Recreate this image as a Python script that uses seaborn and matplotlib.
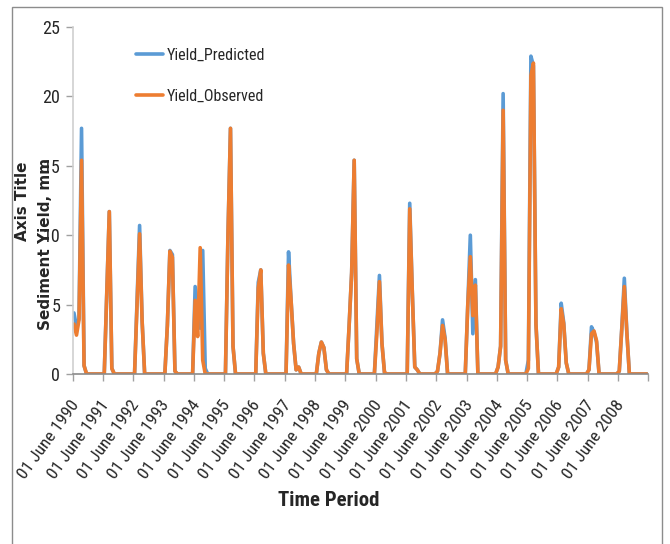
import numpy as np
import pandas as pd
import matplotlib
matplotlib.use("Agg")
import matplotlib.pyplot as plt
import matplotlib.transforms as mtransforms
from matplotlib.patches import Rectangle
from matplotlib import font_manager as fm
import seaborn as sns

# ---------------- data (monthly, June 1990 - May 2009) ----------------
yield_predicted = [
    4.4, 3.4, 4.0, 17.7, 0.6, 0, 0, 0, 0, 0, 0, 0,          # 1990
    0, 5.8, 11.7, 0.4, 0, 0, 0, 0, 0, 0, 0, 0,              # 1991
    0, 5.3, 10.7, 3.8, 0, 0, 0, 0, 0, 0, 0, 0,              # 1992
    0, 3.5, 8.9, 8.6, 0.2, 0, 0, 0, 0, 0, 0, 0,             # 1993
    6.3, 4.8, 3.3, 8.9, 0.4, 0, 0, 0, 0, 0, 0, 0,           # 1994
    0, 10.0, 17.7, 2.0, 0, 0, 0, 0, 0, 0, 0, 0,             # 1995
    0, 6.6, 7.5, 1.5, 0, 0, 0, 0, 0, 0, 0, 0,               # 1996
    0, 8.8, 5.3, 2.2, 0.3, 0.5, 0, 0, 0, 0, 0, 0,           # 1997
    0, 1.5, 2.3, 1.9, 0.3, 0, 0, 0, 0, 0, 0, 0,             # 1998
    0, 3.5, 7.3, 15.4, 1.1, 0, 0, 0, 0, 0, 0, 0,            # 1999
    3.6, 7.1, 2.2, 0.1, 0, 0, 0, 0, 0, 0, 0, 0,             # 2000
    0, 12.3, 6.0, 0.5, 0.3, 0, 0, 0, 0, 0, 0, 0,            # 2001
    0.2, 1.5, 3.9, 2.6, 0, 0, 0, 0, 0, 0, 0, 0,             # 2002
    5.0, 10.0, 2.9, 6.8, 0, 0, 0, 0, 0, 0, 0, 0,            # 2003
    0.5, 2.0, 20.2, 1.0, 0, 0, 0, 0, 0, 0, 0, 0,            # 2004
    1.0, 22.9, 22.2, 3.6, 0, 0, 0, 0, 0, 0, 0, 0,           # 2005
    0.5, 5.1, 3.7, 0.8, 0, 0, 0, 0, 0, 0, 0, 0,             # 2006
    0.3, 3.4, 3.0, 2.3, 0, 0, 0, 0, 0, 0, 0, 0,             # 2007
    0.2, 3.3, 6.9, 3.0, 0, 0, 0, 0, 0, 0, 0, 0,             # 2008
]
yield_observed = [
    3.6, 2.8, 3.9, 15.4, 0.6, 0, 0, 0, 0, 0, 0, 0,          # 1990
    0, 5.8, 11.7, 0.4, 0, 0, 0, 0, 0, 0, 0, 0,              # 1991
    0, 5.0, 10.1, 3.8, 0, 0, 0, 0, 0, 0, 0, 0,              # 1992
    0, 3.5, 8.85, 8.4, 0.2, 0, 0, 0, 0, 0, 0, 0,            # 1993
    5.3, 2.7, 9.1, 1.0, 0, 0, 0, 0, 0, 0, 0, 0,             # 1994
    0, 10.0, 17.7, 2.0, 0, 0, 0, 0, 0, 0, 0, 0,             # 1995
    0, 6.2, 7.5, 1.5, 0, 0, 0, 0, 0, 0, 0, 0,               # 1996
    0, 7.85, 5.3, 2.2, 0.3, 0.5, 0, 0, 0, 0, 0, 0,          # 1997
    0, 1.5, 2.3, 1.9, 0.3, 0, 0, 0, 0, 0, 0, 0,             # 1998
    0, 3.5, 7.3, 15.4, 1.1, 0, 0, 0, 0, 0, 0, 0,            # 1999
    3.0, 6.65, 2.2, 0.1, 0, 0, 0, 0, 0, 0, 0, 0,            # 2000
    0, 11.9, 6.0, 0.5, 0.3, 0, 0, 0, 0, 0, 0, 0,            # 2001
    0.2, 1.5, 3.5, 2.5, 0, 0, 0, 0, 0, 0, 0, 0,             # 2002
    5.0, 8.45, 4.2, 6.4, 0, 0, 0, 0, 0, 0, 0, 0,            # 2003
    0.5, 2.0, 19.0, 1.0, 0, 0, 0, 0, 0, 0, 0, 0,            # 2004
    0.4, 21.5, 22.4, 3.6, 0, 0, 0, 0, 0, 0, 0, 0,           # 2005
    0.5, 4.7, 3.6, 0.8, 0, 0, 0, 0, 0, 0, 0, 0,             # 2006
    0.3, 2.9, 3.1, 2.4, 0, 0, 0, 0, 0, 0, 0, 0,             # 2007
    0.2, 3.3, 6.3, 3.0, 0, 0, 0, 0, 0, 0, 0, 0,             # 2008
]
tick_labels = [f"01 June {y}" for y in range(1990, 2009)]
series_names = ["Yield_Predicted", "Yield_Observed"]
y_ticks = [0, 5, 10, 15, 20, 25]

# ---------------- fonts ----------------
sns.set_style("white")
_names = {f.name for f in fm.fontManager.ttflist}
_narrow = None
for cand in ["Liberation Sans Narrow", "Roboto Condensed", "Open Sans Condensed",
             "DejaVu Sans Condensed", "Noto Sans Condensed"]:
    if cand in _names:
        _narrow = cand
        break
if _narrow is not None:
    plt.rcParams["font.family"] = [_narrow, "DejaVu Sans"]
    scale = 1.0
else:
    plt.rcParams["font.family"] = ["Liberation Sans", "DejaVu Sans"]
    scale = 0.88

W, H = 670, 544
fig = plt.figure(figsize=(W / 100, H / 100), dpi=100)
ax = fig.add_axes([72.7 / W, 1 - 374 / H, (648.3 - 72.7) / W, (374 - 27) / H])

n = len(yield_predicted)
df = pd.DataFrame({
    "month": np.arange(n),
    series_names[0]: yield_predicted,
    series_names[1]: yield_observed,
})

sns.lineplot(data=df, x="month", y=series_names[0], ax=ax, color="#5B9BD5",
             lw=2.6, label=series_names[0])
sns.lineplot(data=df, x="month", y=series_names[1], ax=ax, color="#ED7D31",
             lw=2.6, label=series_names[1])

ax.set_xlim(-0.5, n - 0.5)
ax.set_ylim(0, 25)
ax.set_xlabel("")
ax.set_ylabel("")

ticks = np.arange(-0.5, n, 12)
ax.set_xticks(ticks)
ax.set_xticklabels(tick_labels + [""] * (len(ticks) - len(tick_labels)))
ax.set_yticks(y_ticks)
ax.set_yticklabels([str(v) for v in y_ticks])

for s in ["top", "right"]:
    ax.spines[s].set_visible(False)
ax.spines["left"].set_color("#d0d0d0")
ax.spines["left"].set_linewidth(1.2)
ax.spines["bottom"].set_color("#8a8a8a")
ax.spines["bottom"].set_linewidth(1.2)

ax.tick_params(axis="x", direction="out", length=5, width=1, color="#a0a0a0",
               pad=15, labelsize=12.5 * scale, labelcolor="#262626")
ax.tick_params(axis="y", direction="out", length=5, width=1, color="#a0a0a0",
               pad=4, labelsize=13 * scale, labelcolor="#262626")
ax.tick_params(bottom=True, left=True)
shift = mtransforms.ScaledTranslation(3 / 100, 0, fig.dpi_scale_trans)
for lab in ax.get_xticklabels():
    lab.set_rotation(54)
    lab.set_ha("right")
    lab.set_va("center")
    lab.set_rotation_mode("anchor")
    lab.set_transform(lab.get_transform() + shift)

leg = ax.legend(loc="upper left", bbox_to_anchor=(136 / W, 1 - 48 / H),
                bbox_transform=fig.transFigure, frameon=False, fontsize=11.5 * scale,
                handlelength=1.7, handletextpad=0.2, labelspacing=1.6,
                borderpad=0, borderaxespad=0)
for t in leg.get_texts():
    t.set_color("#262626")

fig.text(23 / W, 1 - 201 / H, "Axis Title", rotation=90, ha="center",
         va="center", fontsize=11, fontweight="bold", family="DejaVu Sans")
fig.text(46 / W, 1 - 244 / H, "Sediment Yield, mm", rotation=90, ha="center",
         va="center", fontsize=11, fontweight="bold", family="DejaVu Sans")
fig.text(329 / W, 1 - 500 / H, "Time Period", ha="center", va="center",
         fontsize=15 * scale, fontweight="bold")

fig.add_artist(Rectangle((12 / W, -0.1), (661.7 - 12) / W, 1 - 7 / H + 0.1,
                         transform=fig.transFigure, fill=False,
                         ec="#8c8c8c", lw=1))

fig.savefig("out.png", dpi=100)
